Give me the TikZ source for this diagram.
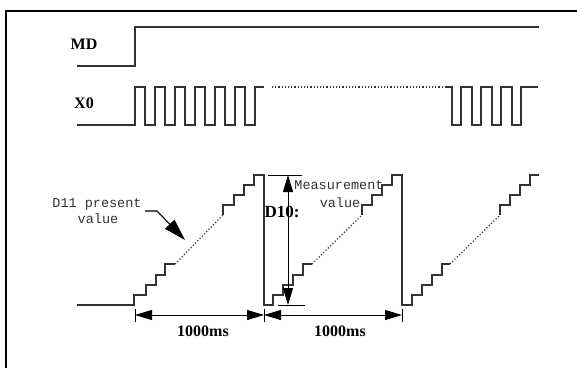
\documentclass[tikz,border=0pt]{standalone}
\usepackage{fontspec}
\setmainfont{Liberation Serif}
\setmonofont{Liberation Mono}
\usetikzlibrary{arrows.meta}
\tikzset{
  wave/.style={draw=black!80, line width=1.2pt},
  gap/.style={draw=black!80, line width=1.2pt, dash pattern=on 1.2pt off 2pt},
  dimline/.style={draw=black, line width=0.9pt,
    {Triangle[length=17pt,width=10pt]}-{Triangle[length=17pt,width=10pt]}},
  sig/.style={font=\bfseries\fontsize{16}{16}\selectfont, inner sep=0pt},
  note/.style={font=\ttfamily\fontsize{13.5}{13.5}\selectfont, text=black!80, inner sep=0pt},
}

\begin{document}
\begin{tikzpicture}[x=1pt,y=-1pt]
			\useasboundingbox (0,0) rectangle (577,368);
			\draw[line width=2.6pt] (6,368) -- (6,11) -- (577,11);
			% signal names
			\node[sig] (md) at (84,44) {MD};
			\node[sig] (x0) at (84,103) {X0};
			% MD
			\draw[wave] (77,66) -- (135,66) -- (135,27) -- (539,27);
			% X0 pulses
			\draw[wave] (77,125) -- (135,125) foreach \t in {135,155,...,235} { -- (\t,125) -- (\t,87) -- (\t+10,87) -- (\t+10,125) } -- (255,125) -- (255,87) -- (264,87);
			\draw[gap] (272,87) -- (445,87);
			\draw[wave] (446,87) foreach \t in {452,472,492,512} { -- (\t,87) -- (\t,125) -- (\t+9,125) -- (\t+9,87) } -- (538,87);
			% D11 ramps
			\draw[wave] (77,305) -- (134,305) |- (146,295) |- (156,285) |- (165,275) |- (175,264);
			\draw[gap] (175,264) -- (223,215);
			\draw[wave] (223,215) |- (234,205) |- (244,195) |- (254,185) |- (264,175) -- (264,305) -- (273,305) |- (283,295) |- (293,285) |- (303,275) |- (312,264);
			\draw[gap] (312,264) -- (362,215);
			\draw[wave] (362,215) |- (372,205) |- (382,195) |- (392,185) |- (402,175) -- (402,305) -- (412,305) |- (422,295) |- (432,285) |- (442,275) |- (450,264);
			\draw[gap] (450,264) -- (500,215);
			\draw[wave] (500,215) |- (510,205) |- (520,195) |- (530,185) |- (539,175);
			% D10
			\coordinate (d10top) at (288,175);
			\coordinate (d10bot) at (288,305);
			\draw[line width=0.9pt] (268,175) -- (302,175);
			\draw[line width=0.9pt] (278,305) -- (305,305);
			\draw[dimline] (d10top) -- (d10bot);
			\node[sig, font=\bfseries\fontsize{17}{17}\selectfont] (d10) at (282,212) {D10:};
			\node[note] (meas) at (339,185) {Measurement};
			\node[note] (measv) at (340,203) {value};
			% D11 note
			\node[note] (pres) at (97,204) {D11 present};
			\node[note] (presv) at (98,219) {value};
			\coordinate (ptr) at (145,211);
			\coordinate (ptrtip) at (185,240);
			\draw[line width=1.1pt, -{Triangle[length=22pt,width=13pt]}] (ptr) -- (157,211) -- (ptrtip);
			% 1000ms
			\coordinate (t0) at (135,315);
			\coordinate (t1) at (264,315);
			\coordinate (t2) at (402,315);
			\foreach \p in {t0,t1,t2}
				\draw[line width=0.9pt] ([yshift=-7pt]\p) -- ([yshift=6pt]\p);
			\draw[dimline] (t0) -- (t1);
			\draw[dimline] (t1) -- (t2);
			\node[sig] (ms1) at (203,331) {1000ms};
			\node[sig] (ms2) at (340,331) {1000ms};
		\end{tikzpicture}
\end{document}
